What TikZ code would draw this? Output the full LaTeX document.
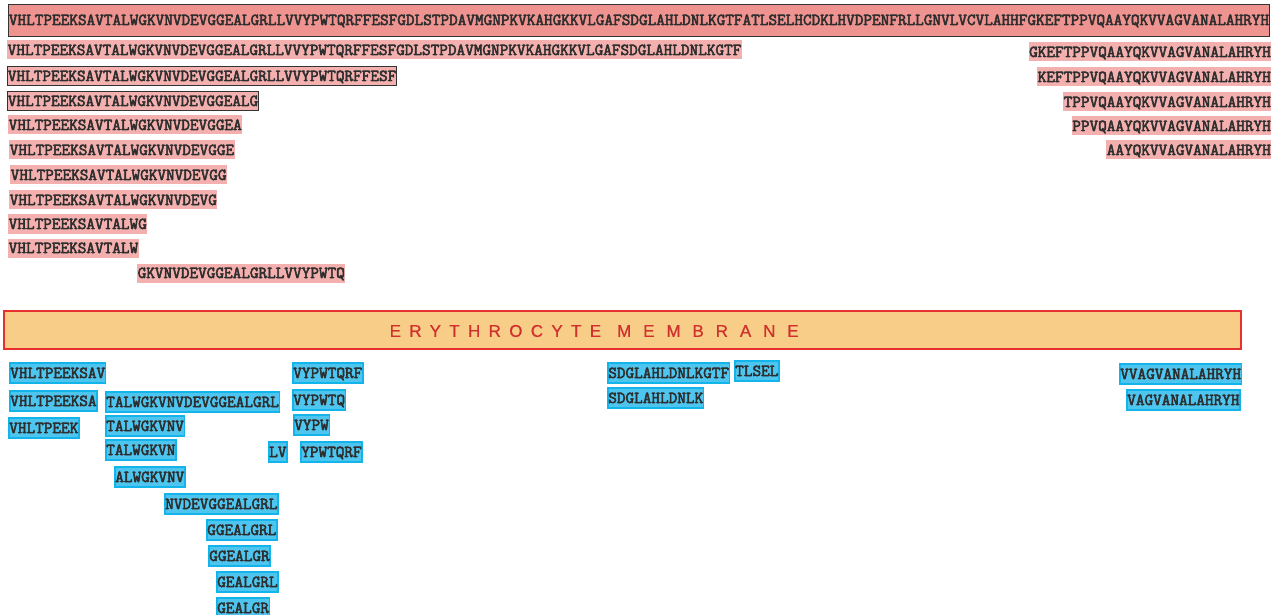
\documentclass[tikz,border=0pt]{standalone}
\usepackage{fontspec}
\usepackage{xcolor}
\usepackage{tikz}

\newfontfamily\seqmono{Latin Modern Mono}[AutoFakeBold=3.2]
\newfontfamily\memfont{Liberation Sans}[AutoFakeBold=0.6]

\definecolor{hbfull}{HTML}{EE938F}
\definecolor{hbpink}{HTML}{F3B0AE}
\definecolor{hbedge}{HTML}{333333}
\definecolor{memfill}{HTML}{F7CD87}
\definecolor{memred}{HTML}{E8312F}
\definecolor{memtext}{HTML}{D0302E}
\definecolor{bluefill}{HTML}{4DC5EE}
\definecolor{blueedge}{HTML}{12B4EA}
\definecolor{seqtext}{HTML}{2E2E2E}

\begin{document}
\begin{tikzpicture}[x=1pt,y=-1pt,
  pep/.style={anchor=west,inner xsep=0.5pt,inner ysep=0pt,minimum height=19pt,
    text height=10pt,text depth=0pt,text=seqtext,
    font=\seqmono\bfseries\fontsize{16.76}{18}\selectfont},
  pk/.style={pep,fill=hbpink},
  pkb/.style={pk,draw=hbedge,line width=0.8pt},
  pkr/.style={pk,anchor=east},
  bl/.style={pep,fill=bluefill,draw=blueedge,line width=1.5pt,minimum height=20pt}]
  \useasboundingbox (0,0) rectangle (1278,615);

  % full chain
  \node[pep,fill=hbfull,draw=hbedge,line width=0.8pt,minimum height=32pt] (hb) at (8,20)
    {VHLTPEEKSAVTALWGKVNVDEVGGEALGRLLVVYPWTQRFFESFGDLSTPDAVMGNPKVKAHGKKVLGAFSDGLAHLDNLKGTFATLSELHCDKLHVDPENFRLLGNVLVCVLAHHFGKEFTPPVQAAYQKVVAGVANALAHRYH};

  % soluble fragments, left
  \node[pk]  (p85) at (7,50)   {VHLTPEEKSAVTALWGKVNVDEVGGEALGRLLVVYPWTQRFFESFGDLSTPDAVMGNPKVKAHGKKVLGAFSDGLAHLDNLKGTF};
  \node[pkb] (p45) at (7,76)   {VHLTPEEKSAVTALWGKVNVDEVGGEALGRLLVVYPWTQRFFESF};
  \node[pkb] (p29) at (7,101)  {VHLTPEEKSAVTALWGKVNVDEVGGEALG};
  \node[pk]  (p27) at (8,125)  {VHLTPEEKSAVTALWGKVNVDEVGGEA};
  \node[pk]  (p26) at (9,150)  {VHLTPEEKSAVTALWGKVNVDEVGGE};
  \node[pk]  (p25) at (10,175) {VHLTPEEKSAVTALWGKVNVDEVGG};
  \node[pk]  (p24) at (9,200)  {VHLTPEEKSAVTALWGKVNVDEVG};
  \node[pk]  (p16) at (8,224)  {VHLTPEEKSAVTALWG};
  \node[pk]  (p15) at (8,248)  {VHLTPEEKSAVTALW};
  \node[pk]  (q16) at (137,273) {GKVNVDEVGGEALGRLLVVYPWTQ};

  % soluble fragments, right
  \node[pkr] (r119) at (1271.5,52)  {GKEFTPPVQAAYQKVVAGVANALAHRYH};
  \node[pkr] (r120) at (1271.5,77)  {KEFTPPVQAAYQKVVAGVANALAHRYH};
  \node[pkr] (r123) at (1271.5,102) {TPPVQAAYQKVVAGVANALAHRYH};
  \node[pkr] (r124) at (1271.5,126) {PPVQAAYQKVVAGVANALAHRYH};
  \node[pkr] (r128) at (1271.5,150) {AAYQKVVAGVANALAHRYH};

  % membrane
  \node[draw=memred,fill=memfill,line width=1.5pt,minimum width=1237pt,minimum height=38pt] (mem) at (622.5,330) {};
  \node[anchor=west,inner sep=0pt,text=memtext,font=\memfont\bfseries\fontsize{17}{19}\selectfont] (memtxt) at (389.5,331)
    {{\addfontfeature{LetterSpace=49}ERYTHROCYTE}\hspace{16pt}{\addfontfeature{LetterSpace=70}MEMBRANE}};

  % membrane-bound fragments
  \node[bl] (m11) at (9,373)   {VHLTPEEKSAV};
  \node[bl] (m10) at (9,401)   {VHLTPEEKSA};
  \node[bl] (m8)  at (8,428)   {VHLTPEEK};
  \node[bl] (t20) at (105,402) {TALWGKVNVDEVGGEALGRL};
  \node[bl] (t9)  at (105,426) {TALWGKVNV};
  \node[bl] (t8)  at (105,450) {TALWGKVN};
  \node[bl] (a8)  at (114,477) {ALWGKVNV};
  \node[bl] (n13) at (164,504) {NVDEVGGEALGRL};
  \node[bl] (g8)  at (206,530) {GGEALGRL};
  \node[bl] (g7)  at (208,556) {GGEALGR};
  \node[bl] (e7)  at (216,582) {GEALGRL};
  \node[bl] (e6)  at (216,608) {GEALGR};
  \node[bl] (v8)  at (292,373) {VYPWTQRF};
  \node[bl] (v6)  at (292,400) {VYPWTQ};
  \node[bl] (v4)  at (293,425) {VYPW};
  \node[bl] (lv)  at (268,452) {LV};
  \node[bl] (y7)  at (300,452) {YPWTQRF};
  \node[bl] (s14) at (607,373) {SDGLAHLDNLKGTF};
  \node[bl] (tl)  at (734,371) {TLSEL};
  \node[bl] (s11) at (607,398) {SDGLAHLDNLK};
  \node[bl] (w14) at (1119,374) {VVAGVANALAHRYH};
  \node[bl] (w13) at (1126,400) {VAGVANALAHRYH};
\end{tikzpicture}
\end{document}
